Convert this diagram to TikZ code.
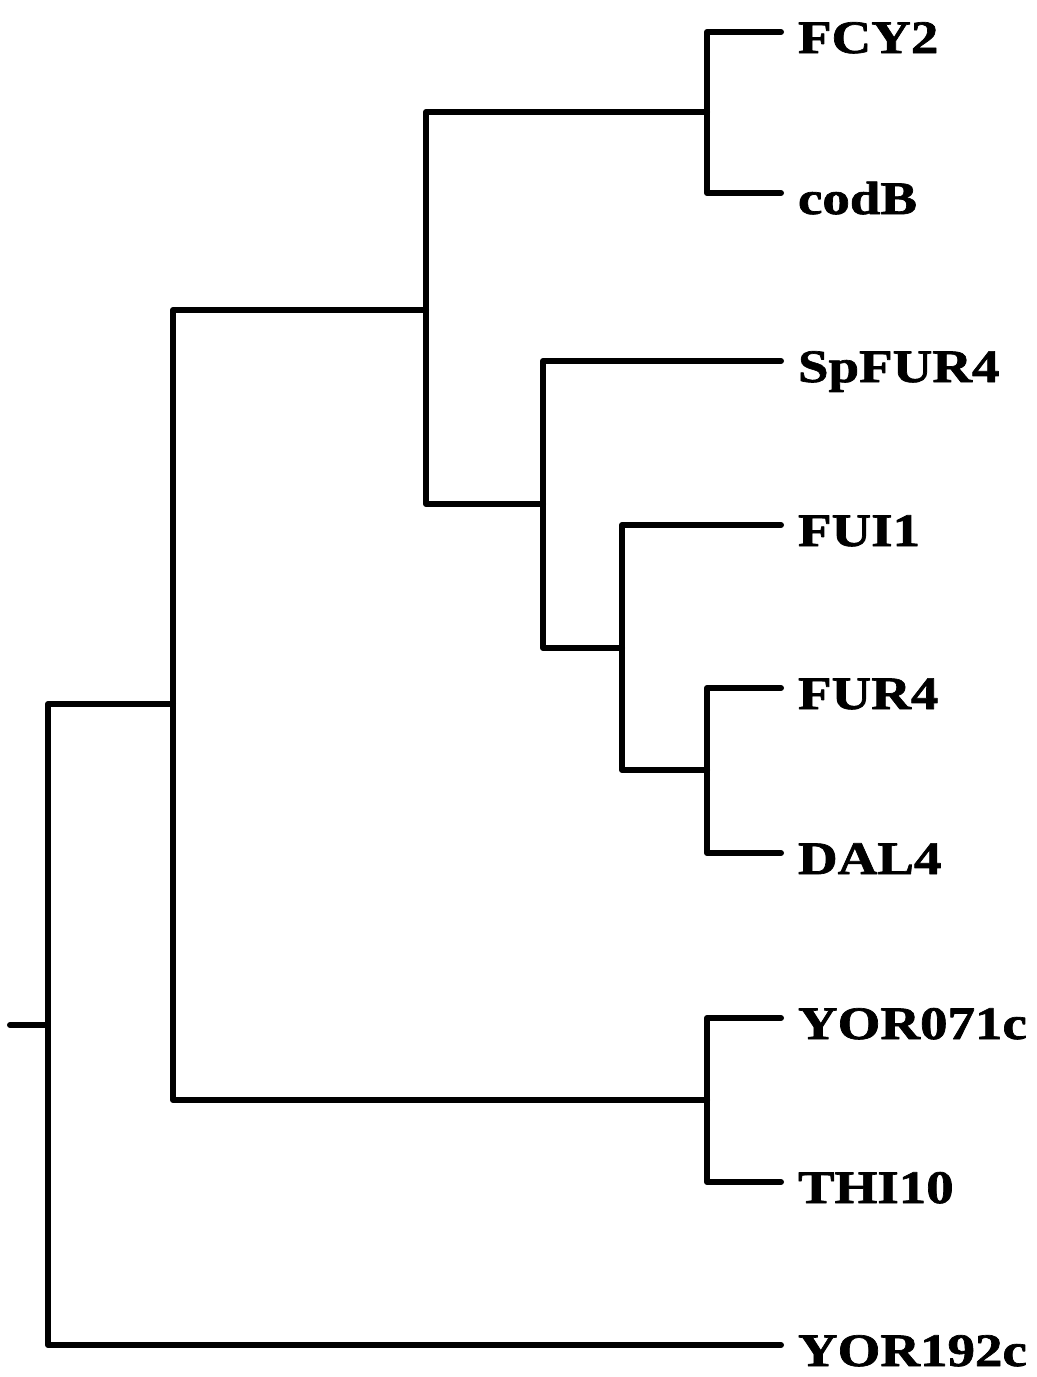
\documentclass[tikz,border=0pt]{standalone}
\usepackage{fontspec}
\newfontfamily\leaffont[FakeStretch=1.18,FakeBold=1.5]{Liberation Serif}
\usetikzlibrary{positioning}

\begin{document}
\begin{tikzpicture}[
  x=0.02cm, y=-0.02cm,
  every path/.style={line width=0.12cm, line cap=round, line join=round},
  leaf/.style={anchor=west, inner xsep=0.28cm, inner ysep=0pt, text height=0.84cm, text depth=0cm,
    font=\leaffont\bfseries\fontsize{26.5}{30}\selectfont}
]
\useasboundingbox (0,0) rectangle (1037,1377);
\coordinate (stub) at (10,1025);
\coordinate (r) at (48,1025);
\coordinate (a) at (173,704);
\coordinate (b) at (426,310);
\coordinate (f) at (707,112);
\coordinate (c) at (543,504);
\coordinate (d) at (622,648);
\coordinate (e) at (707,770);
\coordinate (g) at (707,1100);
\node[leaf] (FCY2) at (781,32) {FCY2};
\node[leaf] (codB) at (781,193) {codB};
\node[leaf] (SpFUR4) at (781,361) {SpFUR4};
\node[leaf] (FUI1) at (781,525) {FUI1};
\node[leaf] (FUR4) at (781,688) {FUR4};
\node[leaf] (DAL4) at (781,853) {DAL4};
\node[leaf] (YOR071c) at (781,1018) {YOR071c};
\node[leaf] (THI10) at (781,1182) {THI10};
\node[leaf] (YOR192c) at (781,1345) {YOR192c};
\draw (stub) -- (r);
\draw (r) |- (a);
\draw (r) |- (YOR192c.west);
\draw (a) |- (b);
\draw (a) |- (g);
\draw (b) |- (f);
\draw (b) |- (c);
\draw (f) |- (FCY2.west);
\draw (f) |- (codB.west);
\draw (c) |- (SpFUR4.west);
\draw (c) |- (d);
\draw (d) |- (FUI1.west);
\draw (d) |- (e);
\draw (e) |- (FUR4.west);
\draw (e) |- (DAL4.west);
\draw (g) |- (YOR071c.west);
\draw (g) |- (THI10.west);
\end{tikzpicture}
\end{document}
